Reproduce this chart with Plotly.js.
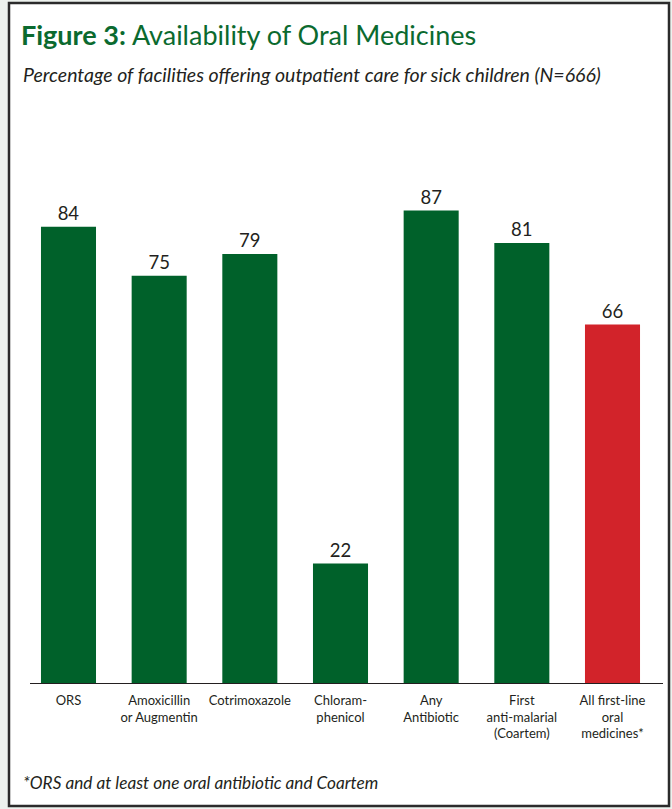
<!DOCTYPE html>
<html>
<head>
<meta charset="utf-8">
<script src="https://cdn.plot.ly/plotly-3.0.1.min.js"></script>
<style>html,body{margin:0;padding:0;background:#edf2ee;}#chart{width:672px;height:809px;}</style>
</head>
<body>
<div id="chart"></div>
<script>
const categories = ["ORS", "Amoxicillin<br>or Augmentin", "Cotrimoxazole", "Chloram-<br>phenicol", "Any<br>Antibiotic", "First<br>anti-malarial<br>(Coartem)", "All first-line<br>oral<br>medicines*"];
const values = [84, 75, 79, 22, 87, 81, 66];
const barColors = ["#00612a", "#00612a", "#00612a", "#00612a", "#00612a", "#00612a", "#d2232a"];
const titleText = "<b>Figure 3:</b> Availability of Oral Medicines";
const subtitleText = "<i>Percentage of facilities offering outpatient care for sick children (N=666)</i>";
const footnoteText = "<i>*ORS and at least one oral antibiotic and Coartem</i>";

const W = 672, H = 809;
const L = 30, R = 663, T = 160, B = 683;
const pw = R - L, ph = B - T;
const px = x => (x - L) / pw;
const py = y => (B - y) / ph;

const trace = {
  type: "bar",
  x: categories,
  y: values,
  width: 0.607,
  marker: {color: barColors, line: {width: 0}},
  text: values.map(String),
  textposition: "outside",
  cliponaxis: false,
  textfont: {family: "Lato, sans-serif", size: 18.5, color: "#231f20"},
  hoverinfo: "none"
};

const layout = {
  width: W, height: H,
  margin: {l: L, r: W - R, t: T, b: H - B, pad: 0},
  paper_bgcolor: "#edf2ee",
  plot_bgcolor: "#ffffff",
  showlegend: false,
  font: {family: "Lato, sans-serif", color: "#231f20"},
  title: {
    text: titleText,
    font: {family: "Lato, sans-serif", size: 27, color: "#0b6a2f"},
    xref: "container", yref: "container",
    x: 21 / W, xanchor: "left",
    y: 1 - 36 / H, yanchor: "middle"
  },
  xaxis: {
    type: "category",
    range: [-0.4246, 6.557],
    showline: true, linecolor: "#231f20", linewidth: 1,
    ticks: "", showgrid: false, zeroline: false,
    tickfont: {family: "Lato, sans-serif", size: 13, color: "#231f20"},
    ticklabelstandoff: 5,
    fixedrange: true
  },
  yaxis: {
    range: [0, 96.3],
    visible: false, showgrid: false, zeroline: false,
    fixedrange: true
  },
  bargap: 0.39,
  shapes: [{
    type: "rect", xref: "paper", yref: "paper", layer: "below",
    x0: px(9), x1: px(669), y0: py(806), y1: py(3),
    fillcolor: "#ffffff",
    line: {color: "#2b2b2b", width: 2.5}
  }],
  annotations: [
    {text: subtitleText, xref: "paper", yref: "paper", x: px(21), y: py(75),
     xanchor: "left", yanchor: "middle", showarrow: false,
     font: {family: "Lato, sans-serif", size: 19.5, color: "#231f20"}},
    {text: footnoteText, xref: "paper", yref: "paper", x: px(21), y: py(782),
     xanchor: "left", yanchor: "middle", showarrow: false,
     font: {family: "Lato, sans-serif", size: 17.2, color: "#231f20"}}
  ]
};

Plotly.newPlot("chart", [trace], layout, {displayModeBar: false, staticPlot: true});
</script>
</body>
</html>
